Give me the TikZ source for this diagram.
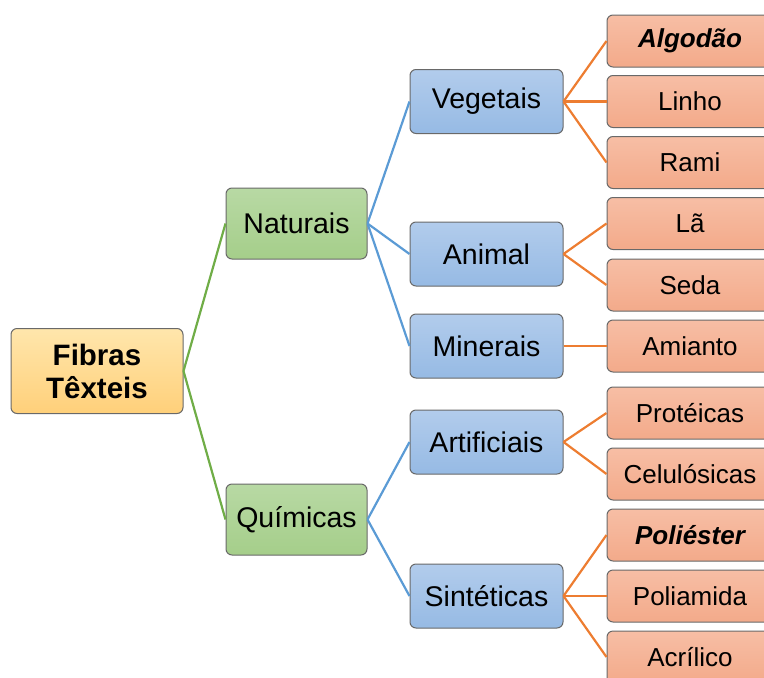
\documentclass[tikz,border=0pt]{standalone}
\usepackage{fontspec}
\setmainfont{Liberation Sans}
\usetikzlibrary{positioning}
\definecolor{RootTop}{RGB}{255,230,172}
\definecolor{RootBot}{RGB}{255,208,122}
\definecolor{GrnTop}{RGB}{184,217,164}
\definecolor{GrnBot}{RGB}{165,206,138}
\definecolor{BluTop}{RGB}{178,204,236}
\definecolor{BluBot}{RGB}{150,186,228}
\definecolor{OrgTop}{RGB}{247,190,165}
\definecolor{OrgBot}{RGB}{243,170,138}
\definecolor{BoxEdge}{RGB}{105,105,105}
\definecolor{GrnLine}{RGB}{112,173,71}
\definecolor{BluLine}{RGB}{91,155,213}
\definecolor{OrgLine}{RGB}{237,125,49}
\tikzset{
  fbox/.style={draw=BoxEdge, line width=1pt, rounded corners=6pt,
               inner sep=0pt, align=center},
  rootbox/.style={fbox, top color=RootTop, bottom color=RootBot,
                  minimum width=172, minimum height=85,
                  font=\fontsize{29.5}{33}\selectfont\bfseries},
  kindbox/.style={fbox, top color=GrnTop, bottom color=GrnBot,
                  minimum width=141, minimum height=71,
                  font=\fontsize{28.5}{33}\selectfont},
  groupbox/.style={fbox, top color=BluTop, bottom color=BluBot,
                   minimum width=153, minimum height=64,
                   font=\fontsize{28.5}{33}\selectfont},
  leafbox/.style={fbox, top color=OrgTop, bottom color=OrgBot,
                  minimum width=166, minimum height=52,
                  font=\fontsize{26}{30}\selectfont},
  link/.style={line width=2.2pt}
}

\begin{document}
\begin{tikzpicture}[x=1pt, y=-1pt]
  \useasboundingbox (0,0) rectangle (764,678);
  \clip (0,0) rectangle (764,678);
  % root and first split
  \node[rootbox] (fibras) at (97,371) {Fibras\\Têxteis};
  \node[kindbox] (naturais) at (296.5,223.5) {Naturais};
  \node[kindbox] (quimicas) at (296.5,519.5) {Químicas};
  \draw[link, GrnLine] (fibras.east) -- (naturais.west);
  \draw[link, GrnLine] (fibras.east) -- (quimicas.west);
  % groups
  \foreach \nm/\yy/\txt/\up in {
    vegetais/101.5/Vegetais/naturais,
    animal/254/Animal/naturais,
    minerais/346/Minerais/naturais,
    artificiais/442/Artificiais/quimicas,
    sinteticas/596/Sintéticas/quimicas} {
    \node[groupbox] (\nm) at (486.5,\yy) {\txt};
    \draw[link, BluLine] (\up.east) -- (\nm.west);
  }
  % leaves
  \foreach \nm/\yy/\txt/\up in {
    algodao/41/{\bfseries\itshape Algodão}/vegetais,
    linho/101.5/Linho/vegetais,
    rami/162.5/Rami/vegetais,
    la/223.5/Lã/animal,
    seda/285/Seda/animal,
    amianto/346/Amianto/minerais,
    proteicas/413/Protéicas/artificiais,
    celulosicas/474/Celulósicas/artificiais,
    poliester/535/{\bfseries\itshape Poliéster}/sinteticas,
    poliamida/596/Poliamida/sinteticas,
    acrilico/657/Acrílico/sinteticas} {
    \node[leafbox] (\nm) at (690,\yy) {\txt};
    \draw[link, OrgLine] (\up.east) -- (\nm.west);
  }
\end{tikzpicture}
\end{document}
